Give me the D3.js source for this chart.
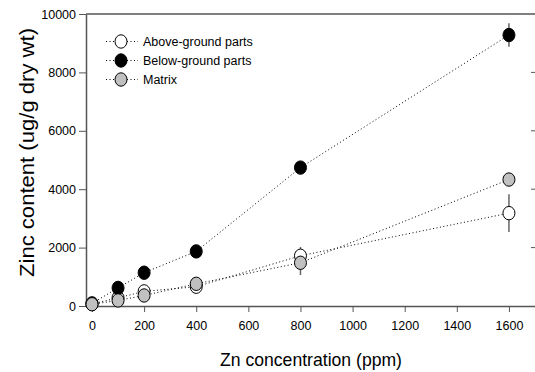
<!DOCTYPE html>
<html>
<head>
<meta charset="utf-8">
<script src="https://cdn.jsdelivr.net/npm/d3@7"></script>
<style>
  body { margin: 0; background: #fff; }
  svg { display: block; font-family: Arial, "Liberation Sans", sans-serif; }
</style>
</head>
<body>
<div id="chart"></div>
<script>
// data
const concentrations = [0, 100, 200, 400, 800, 1600];
const aboveGround = [70, 280, 500, 660, 1720, 3180];
const aboveGroundErr = [0, 0, 60, 70, 300, 650];
const belowGround = [90, 620, 1140, 1870, 4740, 9280];
const belowGroundErr = [0, 0, 0, 0, 0, 400];
const matrix = [60, 190, 360, 760, 1480, 4330];
const matrixErr = [0, 0, 0, 0, 420, 0];
const seriesNames = ["Above-ground parts", "Below-ground parts", "Matrix"];
const xTicks = [0, 200, 400, 600, 800, 1000, 1200, 1400, 1600];
const yTicks = [0, 2000, 4000, 6000, 8000, 10000];

const width = 535, height = 372;
const mLeft = 86, mRight = 535, mTop = 14, mBottom = 306;

const series = [
  { name: seriesNames[0], values: aboveGround, err: aboveGroundErr, fill: "#ffffff" },
  { name: seriesNames[1], values: belowGround, err: belowGroundErr, fill: "#000000" },
  { name: seriesNames[2], values: matrix, err: matrixErr, fill: "#c0c0c0" }
];

const svg = d3.select("#chart").append("svg")
  .attr("width", width)
  .attr("height", height);

const x = d3.scaleLinear().domain([-23, 1700]).range([mLeft, mRight]);
const y = d3.scaleLinear().domain([0, 10000]).range([mBottom, mTop]);

const axisColor = "#555";

// axes
const xAxis = svg.append("g")
  .attr("transform", `translate(0,${mBottom})`)
  .call(d3.axisBottom(x).tickValues(xTicks).tickFormat(d3.format("d"))
    .tickSize(6).tickPadding(9).tickSizeOuter(0));
const yAxis = svg.append("g")
  .attr("transform", `translate(${mLeft},0)`)
  .call(d3.axisLeft(y).tickValues(yTicks).tickFormat(d3.format("d"))
    .tickSize(7).tickPadding(3).tickSizeOuter(0));

[xAxis, yAxis].forEach(a => {
  a.select(".domain").attr("stroke", axisColor).attr("stroke-width", 1.5);
  a.selectAll(".tick line").attr("stroke", axisColor);
  a.selectAll(".tick text").attr("fill", "#000").style("font-size", "12.5px");
});

// top frame and right inner ticks
svg.append("line")
  .attr("x1", mLeft).attr("x2", mRight)
  .attr("y1", mTop).attr("y2", mTop)
  .attr("stroke", axisColor).attr("stroke-width", 1.5);
svg.append("g").selectAll("line")
  .data(yTicks.filter(t => t > 0 && t < 10000))
  .enter().append("line")
  .attr("x1", mRight - 4).attr("x2", mRight)
  .attr("y1", d => y(d)).attr("y2", d => y(d))
  .attr("stroke", axisColor);

// lines
const line = d3.line()
  .x((d, i) => x(concentrations[i]))
  .y(d => y(d));

svg.append("g").selectAll("path")
  .data(series)
  .enter().append("path")
  .attr("d", d => line(d.values))
  .attr("fill", "none")
  .attr("stroke", "#000")
  .attr("stroke-width", 1)
  .attr("stroke-dasharray", "1,2.5");

// error bars
series.forEach(s => {
  svg.append("g").selectAll("line")
    .data(s.values.map((v, i) => ({ v, e: s.err[i], c: concentrations[i] })).filter(d => d.e > 0))
    .enter().append("line")
    .attr("x1", d => x(d.c)).attr("x2", d => x(d.c))
    .attr("y1", d => y(d.v - d.e)).attr("y2", d => y(d.v + d.e))
    .attr("stroke", "#666").attr("stroke-width", 1.5);
});

// markers
series.forEach(s => {
  svg.append("g").selectAll("ellipse")
    .data(s.values)
    .enter().append("ellipse")
    .attr("cx", (d, i) => x(concentrations[i]))
    .attr("cy", d => y(d))
    .attr("rx", 6)
    .attr("ry", 6.7)
    .attr("fill", s.fill)
    .attr("stroke", "#000")
    .attr("stroke-width", 1);
});

// legend
const legend = svg.append("g");
series.forEach((s, i) => {
  const ly = 41.5 + i * 19;
  legend.append("line")
    .attr("x1", 106).attr("x2", 138)
    .attr("y1", ly).attr("y2", ly)
    .attr("stroke", "#000").attr("stroke-dasharray", "1,2.5");
  legend.append("ellipse")
    .attr("cx", 121).attr("cy", ly)
    .attr("rx", 6).attr("ry", 6.7)
    .attr("fill", s.fill).attr("stroke", "#000");
  legend.append("text")
    .attr("x", 143).attr("y", ly)
    .attr("dy", "0.35em")
    .style("font-size", "12.5px")
    .text(s.name);
});

// axis titles
svg.append("text")
  .attr("x", 311).attr("y", 366)
  .attr("text-anchor", "middle")
  .attr("textLength", 182)
  .attr("lengthAdjust", "spacingAndGlyphs")
  .style("font-size", "18.5px")
  .text("Zn concentration (ppm)");
svg.append("text")
  .attr("transform", "translate(33.5,152.5) rotate(-90)")
  .attr("text-anchor", "middle")
  .attr("textLength", 249)
  .attr("lengthAdjust", "spacingAndGlyphs")
  .style("font-size", "21px")
  .text("Zinc content (ug/g dry wt)");
</script>
</body>
</html>
